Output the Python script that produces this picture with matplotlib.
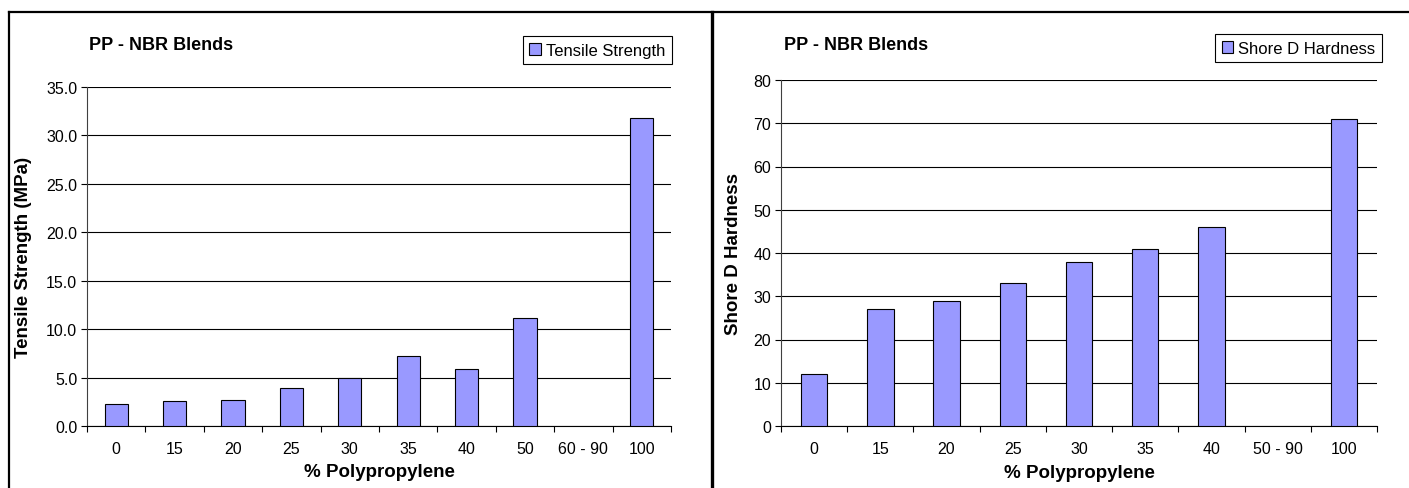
import numpy as np
import matplotlib
matplotlib.use("Agg")
import matplotlib.pyplot as plt
from matplotlib.lines import Line2D
from matplotlib.patches import Patch
from matplotlib.ticker import FixedLocator, FormatStrFormatter

plt.rcParams['font.family'] = ['Liberation Sans', 'DejaVu Sans']

# data
tensile_cats = ["0", "15", "20", "25", "30", "35", "40", "50", "60 - 90", "100"]
tensile_vals = [2.25, 2.55, 2.65, 3.9, 4.95, 7.25, 5.9, 11.15, np.nan, 31.85]

hardness_cats = ["0", "15", "20", "25", "30", "35", "40", "50 - 90", "100"]
hardness_vals = [12, 27, 29, 33, 38, 41, 46, np.nan, 71]

BAR_COLOR = "#9999FF"
W, H = 1409, 489


def fx(px):
    return px / W


def fy(py):
    return 1 - py / H


def draw_panel(fig, rect, cats, vals, ymax, ystep, yfmt, ylabel, legend_label,
               title_x, legend_box, ylabel_x):
    ax = fig.add_axes(rect)
    x = np.arange(len(cats))
    ax.bar(x, vals, width=0.4, color=BAR_COLOR, edgecolor="black",
           linewidth=0.8, zorder=3)

    ax.set_xlim(-0.5, len(cats) - 0.5)
    ax.set_ylim(0, ymax)
    ax.set_yticks(np.arange(0, ymax + ystep / 2, ystep))
    ax.yaxis.set_major_formatter(FormatStrFormatter(yfmt))
    ax.yaxis.grid(True, color="black", linewidth=0.8, zorder=1)

    ax.set_xticks(x)
    ax.set_xticklabels(cats)
    ax.xaxis.set_minor_locator(FixedLocator(np.arange(-0.5, len(cats), 1.0)))
    ax.tick_params(axis="x", which="major", length=0, pad=11, labelsize=11.5)
    ax.tick_params(axis="x", which="minor", length=4, width=0.8,
                   direction="out", color="black")
    ax.tick_params(axis="y", length=4, width=0.8, pad=3, labelsize=11.5)

    for s in ("top", "right"):
        ax.spines[s].set_visible(False)
    ax.spines["left"].set_color("#404040")
    ax.spines["left"].set_linewidth(0.8)
    ax.spines["bottom"].set_linewidth(0.8)

    ax.set_xlabel("% Polypropylene", fontsize=13.5, fontweight="bold")
    ax.xaxis.set_label_coords(0.5, -0.135)
    ax.xaxis.label.set_va("center")
    ax.set_ylabel(ylabel, fontsize=13.5, fontweight="bold")
    ax.yaxis.set_label_coords(ylabel_x, 0.5)
    ax.yaxis.label.set_va("center")

    fig.text(fx(title_x), fy(45), "PP - NBR Blends", fontsize=13,
             fontweight="bold", ha="left", va="center")

    handle = Patch(facecolor=BAR_COLOR, edgecolor="black", linewidth=0.8)
    leg = fig.legend([handle], [legend_label], loc="upper right",
                     bbox_to_anchor=(fx(legend_box[0]), fy(legend_box[1])),
                     bbox_transform=fig.transFigure, fontsize=12,
                     fancybox=False, framealpha=1, edgecolor="black",
                     borderaxespad=0, handlelength=0.7, handleheight=0.7,
                     handletextpad=0.3, borderpad=0.4)
    leg.get_frame().set_linewidth(0.8)
    return ax


fig = plt.figure(figsize=(W / 100, H / 100), dpi=100)

# left panel: tensile strength
draw_panel(fig, [fx(87), fy(427), fx(671) - fx(87), fy(88) - fy(427)],
           tensile_cats, tensile_vals, 35, 5, "%.1f",
           "Tensile Strength (MPa)", "Tensile Strength",
           title_x=89, legend_box=(672, 37), ylabel_x=-0.108)

# right panel: shore D hardness
draw_panel(fig, [fx(781), fy(427), fx(1377) - fx(781), fy(81) - fy(427)],
           hardness_cats, hardness_vals, 80, 10, "%d",
           "Shore D Hardness", "Shore D Hardness",
           title_x=784, legend_box=(1382, 35), ylabel_x=-0.079)

# outer chart frames
frame_kw = dict(color="black", transform=fig.transFigure)
fig.add_artist(Line2D([fx(9), 1.0], [fy(13), fy(13)], linewidth=1.6, **frame_kw))
fig.add_artist(Line2D([fx(9), fx(9)], [0, fy(13)], linewidth=1.6, **frame_kw))
fig.add_artist(Line2D([fx(712), fx(712)], [0, fy(13)], linewidth=2.4, **frame_kw))

fig.savefig("out.png", dpi=100)
